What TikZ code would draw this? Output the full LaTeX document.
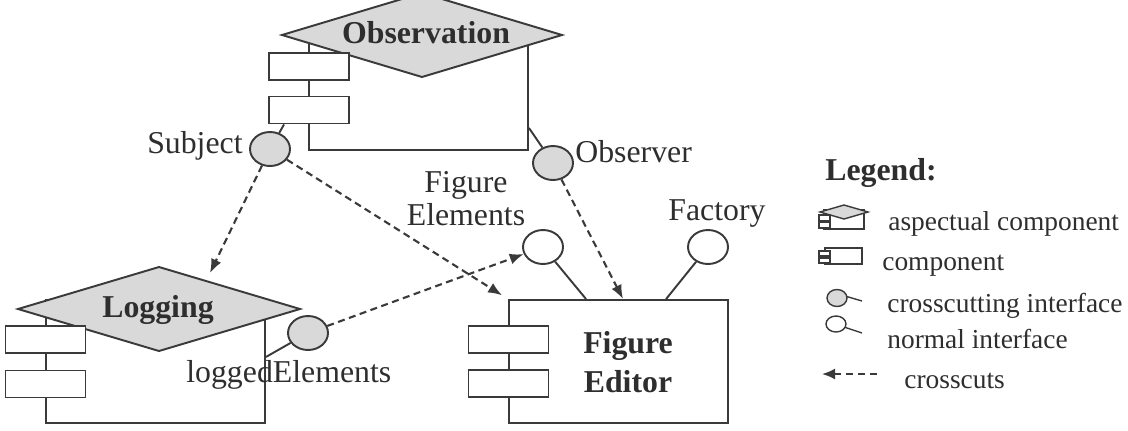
\documentclass[tikz,border=0pt]{standalone}
\usepackage{fontspec}
\setmainfont{Liberation Serif}
\usetikzlibrary{arrows.meta,shapes.geometric,calc}
\definecolor{lncol}{HTML}{3A3A3A}
\definecolor{grcol}{HTML}{D9D9D9}
\definecolor{txcol}{HTML}{2E2E2E}
\begin{document}
\begin{tikzpicture}[x=0.02cm,y=-0.02cm,
 every node/.style={text=txcol},
 lnst/.style={draw=lncol, line width=1.1pt},
 thin/.style={draw=lncol, line width=0.8pt},
 body/.style={lnst, fill=white, rectangle, inner sep=0, minimum width=4.38cm},
 srect/.style={lnst, fill=white, rectangle, inner sep=0, minimum width=1.6cm, minimum height=0.54cm},
 cross/.style={lnst, fill=grcol, ellipse, inner sep=0, minimum width=0.8cm, minimum height=0.68cm},
 normal/.style={lnst, fill=white, ellipse, inner sep=0, minimum width=0.8cm, minimum height=0.68cm},
 dia/.style={lnst, fill=grcol},
 cc/.style={draw=lncol, line width=1.2pt, dash pattern=on 0.14cm off 0.09cm, -{Latex[length=0.28cm,width=0.22cm]}},
 lab/.style={font=\fontsize{18.1}{22}\selectfont, inner sep=0, anchor=base},
 blab/.style={font=\fontsize{18.1}{22}\selectfont\bfseries, inner sep=0, anchor=base},
 leg/.style={font=\fontsize{15.6}{18}\selectfont, inner sep=0, anchor=base west},
]
\clip (0,0) rectangle (1128,430);
\useasboundingbox (0,0) rectangle (1128,430);

% Observation
\node[body, minimum height=2.2cm] (ob) at (418.5,95) {};
\path[dia] (282,35) -- (422,-7) -- (562,35) -- (422,77) -- cycle;
\node[srect] (os1) at (309,66.5) {};
\node[srect] (os2) at (309,110) {};
\node[blab] (obt) at (426,43) {Observation};
\node[cross] (subj) at (270,149) {};
\draw[lnst] ($(os2.south west)+(16,0)$) -- (subj);
\node[cross] (obsr) at (553,163) {};
\draw[lnst] ($(ob.south east)+(0,-23)$) -- (obsr);
\node[lab, anchor=base east] (subjt) at (243,153) {Subject};
\node[lab, anchor=base west] (obsrt) at (575,162) {Observer};

% Logging
\node[body, minimum height=2.46cm] (lg) at (155.5,361.5) {};
\path[dia] (18,309) -- (159,267) -- (300,309) -- (159,351) -- cycle;
\node[srect] (ls1) at (45.5,339.5) {};
\node[srect] (ls2) at (45.5,384) {};
\node[blab] (lgt) at (158,317) {Logging};
\node[cross] (le) at (308,333) {};
\draw[lnst] ($(lg.south east)+(0,-67)$) -- (le);
\node[lab, anchor=base west] (let) at (186,382) {loggedElements};

% Figure Editor
\node[body, minimum height=2.46cm] (fe) at (618.5,361.5) {};
\node[srect] (fs1) at (508.5,339.5) {};
\node[srect] (fs2) at (508.5,383.5) {};
\node[blab] (fet1) at (628,353) {Figure};
\node[blab] (fet2) at (628,392) {Editor};
\node[normal] (fel) at (543,247) {};
\draw[lnst] (fel) -- ($(fe.north west)+(78,0)$);
\node[normal] (fac) at (708,247) {};
\draw[lnst] (fac) -- ($(fe.north west)+(158,0)$);
\node[lab] (felt1) at (466,192) {Figure};
\node[lab] (felt2) at (466,225) {Elements};
\node[lab, anchor=base west] (fact) at (668,220) {Factory};

% crosscuts
\coordinate (lgtip) at (210,273);
\coordinate (fe4) at (623,299);
\draw[cc] (subj) -- (lgtip);
\draw[cc, shorten >=4pt] (subj) -- (fe.north west);
\draw[cc] (le) -- (fel);
\draw[cc] (obsr) -- (fe4);

% Legend
\node[font=\fontsize{18.1}{22}\selectfont\bfseries, inner sep=0, anchor=base west] (legt) at (825,180) {Legend:};
% aspectual icon
\draw[thin, fill=white] (824,210) rectangle (864,229);
\draw[thin, fill=grcol] (820,212) -- (844,205) -- (868,212) -- (844,219) -- cycle;
\draw[thin, fill=white] (819,215) rectangle (830,221);
\draw[thin, fill=white] (819,222) rectangle (830,228);
\node[leg] (l1) at (888,230) {aspectual component};
% component icon
\draw[thin, fill=white] (825,248) rectangle (862,264);
\draw[thin, fill=white] (819,251) rectangle (830,256);
\draw[thin, fill=white] (819,258) rectangle (830,263);
\node[leg] (l2) at (882,270) {component};
% crosscutting interface icon
\draw[thin] (845,296) -- (862,301);
\draw[thin, fill=grcol] (837,298) ellipse [x radius=10, y radius=8.5];
\node[leg] (l3) at (887,312) {crosscutting interface};
% normal interface icon
\draw[thin] (844,327) -- (862,333);
\draw[thin, fill=white] (836,324) ellipse [x radius=10, y radius=8];
\node[leg] (l4) at (887,348) {normal interface};
% crosscuts icon
\coordinate (ca) at (877,374);
\coordinate (cb) at (822,374);
\draw[draw=lncol, line width=1.1pt, dash pattern=on 0.14cm off 0.1cm, -{Latex[length=0.26cm,width=0.22cm]}] (ca) -- (cb);
\node[leg] (l5) at (904,388) {crosscuts};
\end{tikzpicture}
\end{document}
